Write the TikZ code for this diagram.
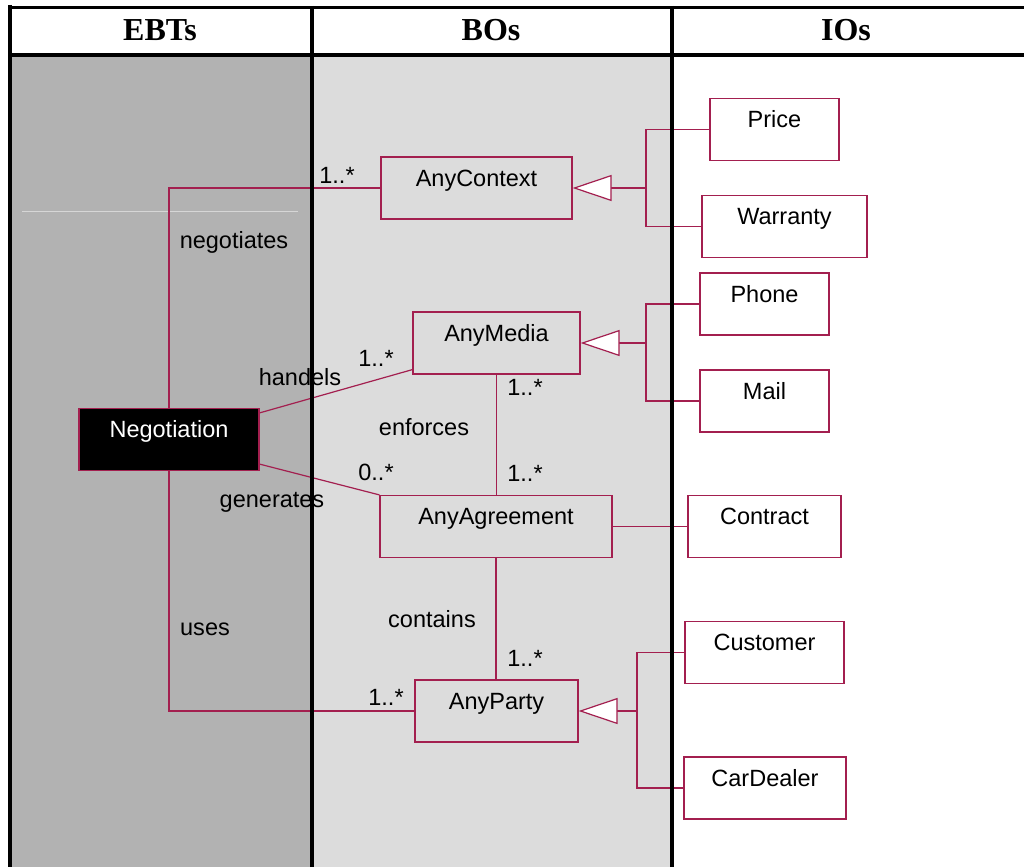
\documentclass[tikz,border=0pt]{standalone}
\usepackage{fontspec}
\setmainfont{Liberation Sans}
\newfontfamily\headfont{Liberation Serif}
\usepackage{tikz}
\usetikzlibrary{
  arrows.meta,
  calc
}
\usepackage{xcolor}
\definecolor{umlRed}{rgb}{0.64,0.12,0.31}
\definecolor{ebtGray}{rgb}{0.698,0.698,0.698}
\definecolor{boGray}{rgb}{0.863,0.863,0.863}
\definecolor{faintGray}{rgb}{0.84,0.84,0.84}
\tikzset{
  umlclass/.style={
    draw=umlRed,
    line width=1.2pt,
    inner sep=0pt,
    text height=29pt,
    text depth=33pt,
    font=\fontsize{23.5}{27}\selectfont
  }
}

\begin{document}
\begin{tikzpicture}[
      x=1pt, y=-1pt,
      assoc/.style={draw=umlRed, line width=1.2pt},
      inherit/.style={assoc, -{Triangle[fill=white, length=39pt, width=26pt]}},
      rolename/.style={font=\fontsize{23.5}{27}\selectfont, inner sep=0pt},
      head/.style={font=\headfont\bfseries\fontsize{32}{36}\selectfont, inner sep=0pt},
      colline/.style={line width=4pt}
      ]
      \useasboundingbox (0,0) rectangle (1024,867);

      % column backgrounds
      \fill[ebtGray] (12,57) rectangle (310,867);
      \fill[boGray] (314,57) rectangle (670,867);
      \draw[faintGray, line width=1pt] (22,211) -- (298,211);

      \foreach \name/\cx in {EBTs/160, BOs/491, IOs/846}{
        \node[head] (head-\name) at (\cx,30) {\name};
      }

      % classes
      \node[umlclass, fill=black, text=white, minimum width=180pt] (nego) at (169,439.5) {Negotiation};
      \node[umlclass, minimum width=191pt] (ctx) at (476.5,188) {AnyContext};
      \node[umlclass, minimum width=167pt] (media) at (496.5,343) {AnyMedia};
      \node[umlclass, minimum width=232pt] (agreement) at (496,526.5) {AnyAgreement};
      \node[umlclass, minimum width=163pt] (party) at (496.5,711) {AnyParty};

      \node[umlclass, fill=white, minimum width=129pt] (price) at (774.5,129.5) {Price};
      \node[umlclass, fill=white, minimum width=165pt] (warranty) at (784.5,226.5) {Warranty};
      \node[umlclass, fill=white, minimum width=129pt] (phone) at (764.5,304) {Phone};
      \node[umlclass, fill=white, minimum width=129pt] (mail) at (764.5,401) {Mail};
      \node[umlclass, fill=white, minimum width=153pt] (contract) at (764.5,526.5) {Contract};
      \node[umlclass, fill=white, minimum width=159pt] (customer) at (764.5,652.5) {Customer};
      \node[umlclass, fill=white, minimum width=162pt] (dealer) at (765,788) {CarDealer};

      % associations
      \draw[assoc] (nego) |- (ctx);
      \draw[assoc] (nego) |- (party);
      \draw[assoc] ($(nego.north east)+(0,5)$) -- ($(media.south west)+(0,-5)$);
      \draw[assoc] ($(nego.south east)+(0,-7)$) -- (agreement.north west);
      \draw[assoc] (media.south) -- (media.south |- agreement.north);
      \draw[assoc] (agreement.south) -- (agreement.south |- party.north);
      \draw[assoc] (agreement) -- (contract);

      \node[rolename] (negotiates) at (234,242) {negotiates};
      \node[rolename] (handels) at (300,377) {handels};
      \node[rolename] (generates) at (272,502) {generates};
      \node[rolename] (uses) at (205,629) {uses};
      \node[rolename] (enforces) at (424,427) {enforces};
      \node[rolename] (contains) at (432,619) {contains};
      \node[rolename] (m-ctx) at (337,175) {1..*};
      \node[rolename] (m-media) at (376,358) {1..*};
      \node[rolename] (m-media2) at (525,387) {1..*};
      \node[rolename] (m-agree1) at (376,472) {0..*};
      \node[rolename] (m-agree2) at (525,473) {1..*};
      \node[rolename] (m-party1) at (525,658) {1..*};
      \node[rolename] (m-party2) at (386,697) {1..*};

      % generalizations
      \coordinate (ctx-hub) at (646,188);
      \coordinate (media-hub) at (646,343);
      \coordinate (party-hub) at (637,711);
      \foreach \sub/\hub in {price/ctx-hub, warranty/ctx-hub, phone/media-hub,
                             mail/media-hub, customer/party-hub, dealer/party-hub}{
        \draw[assoc] (\sub.west) -| (\hub);
      }
      \foreach \super in {ctx, media, party}{
        \draw[inherit] (\super-hub) -- (\super.east);
      }

      % table lines
      \draw[line width=3.5pt] (8,7.5) -- (1024,7.5);
      \draw[colline] (8,55) -- (1024,55);
      \draw[colline] (10,5) -- (10,867);
      \draw[colline] (312,6) -- (312,867);
      \draw[colline] (672,6) -- (672,867);
    \end{tikzpicture}
\end{document}
